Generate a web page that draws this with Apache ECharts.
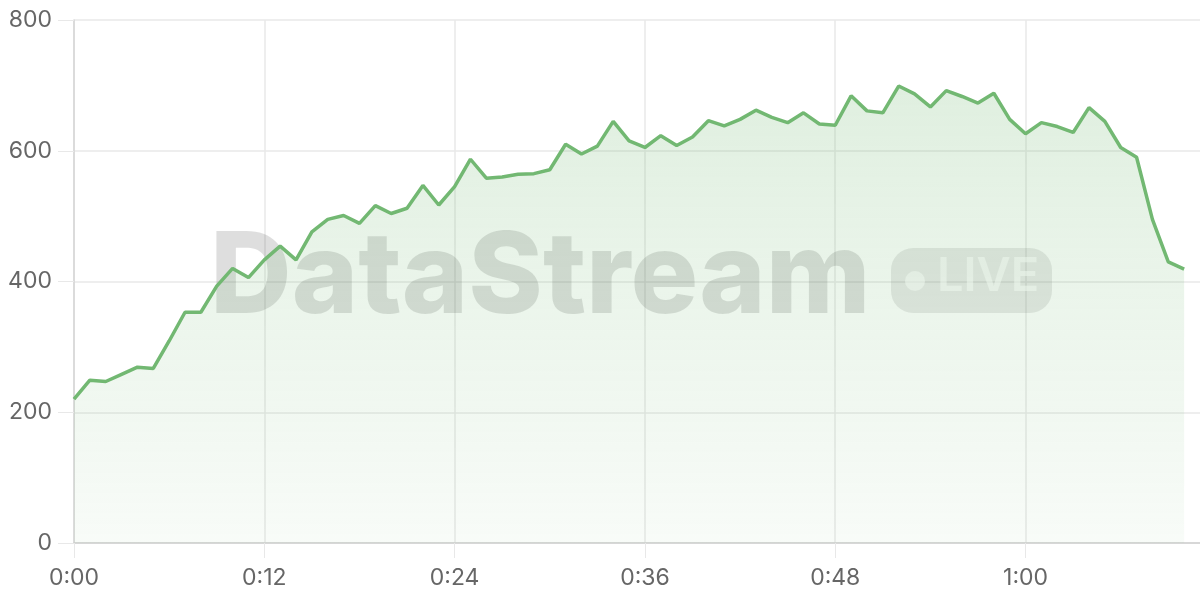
<!DOCTYPE html>
<html>
<head>
<meta charset="utf-8">
<script src="https://cdn.jsdelivr.net/npm/echarts@6/dist/echarts.min.js"></script>
<style>
  html, body { margin: 0; padding: 0; background: #fff; }
  #chart { width: 1200px; height: 600px; }
</style>
</head>
<body>
<div id="chart"></div>
<script>
// values per minute, 0:00 .. 1:10
var values = [
  220, 249, 247, 258, 269, 267, 309, 353, 353, 393,
  420, 406, 433, 454, 433, 476, 495, 501, 489, 516,
  504, 512, 547, 517, 545, 587, 558, 560, 564, 565,
  571, 610, 595, 607, 645, 615, 605, 623, 608, 621,
  646, 638, 648, 662, 651, 643, 658, 641, 639, 684,
  661, 658, 699, 687, 667, 692, 683, 673, 688, 648,
  626, 643, 637, 628, 666, 645, 605, 590, 495, 430,
  419
];
var yTicks = [0, 200, 400, 600, 800];

// one category per minute, one spare slot at the end of the axis
var minutes = [];
for (var i = 0; i <= values.length; i++) {
  minutes.push(Math.floor(i / 60) + ':' + ('0' + (i % 60)).slice(-2));
}

var chart = echarts.init(document.getElementById('chart'));
var labelFont = 'Inter, "Noto Sans", sans-serif';

var option = {
  animation: false,
  grid: { left: 74, right: 0, top: 20, bottom: 57 },
  xAxis: {
    type: 'category',
    data: minutes,
    boundaryGap: false,
    axisLine: { lineStyle: { color: '#cfcfcf', width: 1.5 } },
    axisTick: { show: true, interval: 11, length: 15, lineStyle: { color: '#e8e8e8' } },
    axisLabel: { interval: 11, margin: 24, fontSize: 23, color: '#666', fontFamily: labelFont },
    splitLine: { show: true, interval: 11, lineStyle: { color: '#e8e8e8', width: 1.5 } }
  },
  yAxis: {
    type: 'value',
    min: yTicks[0],
    max: yTicks[yTicks.length - 1],
    interval: 200,
    axisLine: { show: true, lineStyle: { color: '#d4d4d4', width: 1.5 } },
    axisTick: { show: true, length: 16, lineStyle: { color: '#e8e8e8' } },
    axisLabel: { margin: 22, fontSize: 23, color: '#666', fontFamily: labelFont },
    splitLine: { lineStyle: { color: '#e8e8e8', width: 1.5 } }
  },
  graphic: [
    {
      type: 'text', z: 1, silent: true,
      left: 210, top: 223,
      style: {
        text: 'DataStream',
        font: '800 113px Inter, sans-serif',
        fill: 'rgba(0,0,0,0.13)'
      }
    },
    {
      type: 'rect', z: 1, silent: true,
      shape: { x: 891, y: 248, width: 161, height: 65, r: 22 },
      style: { fill: 'rgba(0,0,0,0.09)' }
    },
    {
      type: 'circle', z: 1, silent: true,
      shape: { cx: 915, cy: 281, r: 10 },
      style: { fill: 'rgba(255,255,255,0.62)' }
    },
    {
      type: 'text', z: 1, silent: true,
      left: 937, top: 253,
      style: {
        text: 'LIVE',
        font: '600 47px Inter, sans-serif',
        fill: 'rgba(255,255,255,0.62)'
      }
    }
  ],
  series: [
    {
      type: 'line',
      z: 3,
      data: values,
      symbol: 'none',
      lineStyle: { color: '#72b872', width: 3.5 },
      areaStyle: {
        color: new echarts.graphic.LinearGradient(0, 0, 0, 1, [
          { offset: 0, color: 'rgba(116,185,116,0.32)' },
          { offset: 1, color: 'rgba(116,185,116,0.07)' }
        ])
      }
    }
  ]
};

chart.setOption(option);
</script>
</body>
</html>
